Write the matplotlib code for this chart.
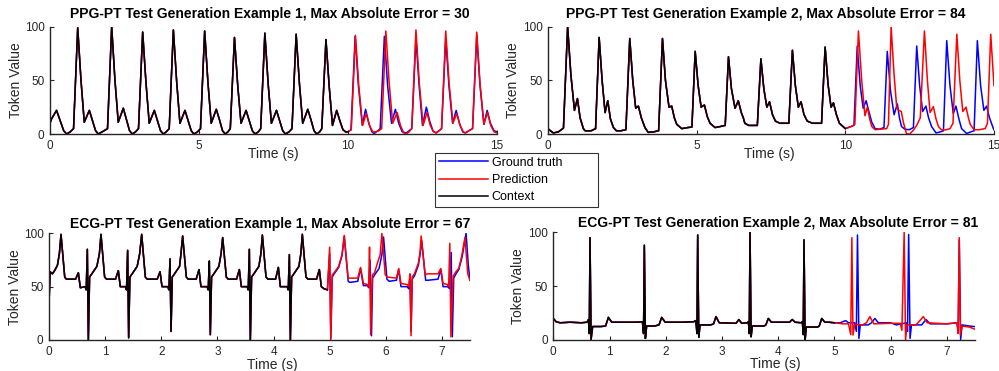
import numpy as np
import matplotlib
matplotlib.use("Agg")
from matplotlib import pyplot as plt

plt.rcParams['font.family'] = ['Liberation Sans', 'DejaVu Sans']

# ---- data: [time (s), token value] ----
ppg1_ctx = [
    [0.00, 10], [0.05, 14], [0.22, 22], [0.36, 11], [0.46, 3], [0.56, 0], [0.68, 2], [0.79, 5],
    [0.93, 99], [1.04, 50], [1.15, 11], [1.32, 22], [1.43, 12], [1.53, 3], [1.62, 0], [1.75, 2], [1.93, 5],
    [2.07, 100], [2.18, 50], [2.29, 11], [2.46, 24], [2.57, 13], [2.67, 3], [2.76, 0], [2.87, 2], [2.97, 5],
    [3.11, 95], [3.22, 48], [3.33, 10], [3.50, 22], [3.61, 12], [3.71, 3], [3.80, 0], [3.90, 2], [4.00, 5],
    [4.14, 97], [4.25, 49], [4.36, 10], [4.53, 22], [4.64, 12], [4.74, 3], [4.83, 0], [4.95, 2], [5.05, 5],
    [5.19, 96], [5.30, 48], [5.41, 10], [5.58, 23], [5.69, 13], [5.79, 3], [5.88, 0], [5.97, 2], [6.05, 5],
    [6.19, 90], [6.30, 45], [6.41, 10], [6.58, 22], [6.69, 12], [6.79, 3], [6.88, 0], [6.99, 2], [7.07, 5],
    [7.21, 94], [7.32, 47], [7.43, 10], [7.60, 22], [7.71, 12], [7.81, 3], [7.90, 0], [8.02, 2], [8.12, 5],
    [8.26, 93], [8.37, 47], [8.48, 10], [8.65, 23], [8.76, 13], [8.86, 3], [8.95, 0], [9.05, 2], [9.12, 5],
    [9.26, 88], [9.37, 44], [9.48, 8], [9.62, 22], [9.73, 12], [9.83, 4], [9.92, 2], [10.0, 2],
]
ppg1_gt = [
    [10.0, 2], [10.10, 4], [10.24, 91], [10.35, 45], [10.48, 8], [10.59, 23], [10.70, 10], [10.80, 2], [10.88, 0.5], [11.0, 3], [11.08, 5],
    [11.22, 91], [11.33, 45], [11.46, 10], [11.59, 23], [11.70, 10], [11.82, 2], [11.95, 1], [12.05, 3], [12.14, 5],
    [12.28, 89], [12.39, 44], [12.50, 8], [12.63, 25], [12.74, 12], [12.85, 3], [12.95, 1], [13.05, 3], [13.14, 5],
    [13.28, 89], [13.39, 44], [13.51, 10], [13.63, 22], [13.74, 10], [13.85, 2], [13.93, 1], [14.05, 3], [14.18, 5],
    [14.32, 92], [14.43, 45], [14.56, 9], [14.67, 22], [14.78, 10], [14.90, 3], [15.0, 2],
]
ppg1_pred = [
    [10.0, 2], [10.11, 4], [10.25, 92], [10.36, 45], [10.49, 8], [10.61, 19], [10.72, 8], [10.83, 2], [10.93, 2], [11.03, 3], [11.13, 5],
    [11.27, 96], [11.38, 48], [11.50, 10], [11.65, 20], [11.76, 8], [11.87, 1], [11.95, 0], [12.05, 2], [12.14, 5],
    [12.28, 97], [12.39, 48], [12.52, 8], [12.65, 20], [12.76, 8], [12.87, 2], [12.97, 1], [13.06, 3], [13.14, 5],
    [13.28, 96], [13.39, 48], [13.52, 10], [13.65, 19], [13.76, 8], [13.87, 2], [13.95, 1], [14.06, 3], [14.18, 5],
    [14.32, 95], [14.43, 47], [14.56, 9], [14.68, 20], [14.79, 8], [14.90, 2], [15.0, 1],
]

ppg2_ctx = [
    [0.00, 5], [0.08, 3], [0.18, 1], [0.35, 2], [0.52, 5.5],
    [0.66, 100], [0.77, 55], [0.89, 22], [0.99, 33], [1.08, 15], [1.19, 5], [1.25, 3], [1.45, 3], [1.60, 5],
    [1.72, 90], [1.82, 50], [1.92, 20], [2.01, 31], [2.10, 14], [2.20, 6], [2.30, 3], [2.45, 3], [2.62, 4],
    [2.75, 89], [2.85, 50], [2.95, 24], [3.04, 26], [3.14, 15], [3.26, 6], [3.37, 1.5], [3.55, 2], [3.72, 3],
    [3.85, 89], [3.95, 50], [4.07, 25], [4.16, 26], [4.25, 15], [4.33, 9], [4.50, 5], [4.70, 6], [4.84, 6.5],
    [4.95, 77], [5.05, 45], [5.15, 25], [5.26, 27], [5.36, 16], [5.45, 10], [5.62, 6], [5.80, 7], [5.96, 8],
    [6.07, 72], [6.17, 42], [6.29, 24], [6.40, 31], [6.50, 20], [6.57, 15], [6.62, 10], [6.75, 8], [7.04, 8],
    [7.16, 70], [7.26, 42], [7.36, 25], [7.45, 30], [7.55, 18], [7.65, 12], [7.80, 10], [8.10, 10],
    [8.22, 78], [8.32, 45], [8.42, 25], [8.51, 30], [8.61, 18], [8.72, 12], [8.90, 10], [9.20, 10],
    [9.32, 81], [9.42, 46], [9.52, 25], [9.60, 29], [9.70, 18], [9.80, 10], [9.92, 7], [10.0, 5],
]
ppg2_gt = [
    [10.0, 5], [10.20, 7], [10.29, 8], [10.40, 82], [10.50, 45], [10.60, 24], [10.70, 31], [10.80, 20], [10.89, 11], [11.0, 5], [11.15, 4.5], [11.30, 6],
    [11.41, 77], [11.52, 40], [11.64, 18], [11.75, 28], [11.82, 15], [11.89, 7], [12.0, 4.5], [12.15, 4], [12.29, 6],
    [12.40, 82], [12.50, 45], [12.60, 21], [12.71, 26], [12.80, 15], [12.90, 7], [13.05, 1], [13.20, 2], [13.30, 3],
    [13.41, 87], [13.52, 45], [13.63, 19], [13.72, 26], [13.82, 14], [13.91, 5], [14.08, 0.5], [14.22, 2], [14.33, 3],
    [14.44, 87], [14.55, 45], [14.66, 22], [14.75, 26], [14.85, 15], [14.98, 5], [15.0, 4],
]
ppg2_pred = [
    [10.0, 5], [10.20, 7], [10.32, 9], [10.44, 96], [10.55, 50], [10.66, 17], [10.74, 25], [10.82, 14], [10.89, 7], [11.0, 4], [11.20, 4.5], [11.39, 5], [11.45, 9],
    [11.54, 100], [11.64, 55], [11.73, 24], [11.80, 22], [11.88, 21], [11.96, 10], [12.06, 0], [12.17, 0], [12.30, 4], [12.40, 8], [12.52, 15],
    [12.66, 96], [12.76, 50], [12.85, 20], [12.96, 25.5], [13.05, 14], [13.13, 7], [13.24, 3.7], [13.40, 4], [13.52, 5], [13.62, 10],
    [13.75, 93], [13.85, 50], [13.95, 21], [14.06, 25], [14.14, 15], [14.20, 9], [14.33, 4], [14.50, 4], [14.70, 5], [14.78, 10],
    [14.89, 93], [15.0, 45],
]

ecg1_ctx = [
    [0.00, 34], [0.02, 64], [0.06, 62], [0.10, 65], [0.15, 70], [0.185, 81], [0.214, 99], [0.28, 59], [0.31, 57], [0.473, 57], [0.523, 63], [0.558, 49],
    [0.643, 50], [0.663, 47], [0.683, 85], [0.701, 0], [0.723, 59], [0.763, 62], [0.853, 69], [0.898, 81], [0.926, 99], [0.991, 59], [1.026, 57], [1.185, 57], [1.235, 65], [1.27, 50],
    [1.361, 50], [1.381, 47], [1.401, 84], [1.419, 2], [1.441, 59], [1.481, 62], [1.571, 69], [1.616, 81], [1.651, 99], [1.716, 59], [1.751, 57], [1.928, 57], [1.978, 64], [2.013, 50],
    [2.116, 50], [2.136, 47], [2.156, 76], [2.174, 8], [2.196, 59], [2.236, 62], [2.326, 69], [2.351, 81], [2.381, 97.5], [2.446, 59], [2.481, 57], [2.622, 57], [2.672, 66], [2.707, 50],
    [2.816, 50], [2.836, 47], [2.856, 74], [2.874, 5], [2.896, 59], [2.936, 62], [3.026, 69], [3.066, 81], [3.094, 96], [3.159, 59], [3.194, 57], [3.341, 57], [3.391, 66], [3.426, 50],
    [3.529, 50], [3.549, 47], [3.569, 85], [3.587, 0], [3.609, 59], [3.649, 62], [3.739, 69], [3.775, 81], [3.801, 98.4], [3.866, 59], [3.901, 57], [4.036, 57], [4.086, 68], [4.121, 50],
    [4.242, 50], [4.262, 47], [4.282, 80], [4.300, 0], [4.322, 59], [4.362, 62], [4.452, 69], [4.487, 81], [4.513, 99], [4.578, 59], [4.613, 57], [4.766, 57], [4.816, 66], [4.851, 50],
    [4.90, 48], [4.96, 47],
]
ecg1_gt = [
    [4.96, 47], [5.00, 81], [5.02, 2], [5.045, 59], [5.08, 62], [5.16, 68], [5.22, 79], [5.26, 97], [5.33, 55], [5.36, 54], [5.50, 55], [5.55, 67], [5.60, 51], [5.67, 51], [5.695, 49],
    [5.72, 75], [5.745, 4], [5.765, 58], [5.80, 61], [5.88, 67], [5.93, 80], [5.96, 96.5], [6.02, 57], [6.06, 55], [6.19, 56], [6.23, 66], [6.27, 50], [6.38, 50], [6.41, 48],
    [6.43, 60], [6.45, 8], [6.47, 57], [6.51, 60], [6.58, 70], [6.61, 80], [6.64, 93], [6.71, 56], [6.75, 56], [6.93, 57], [6.98, 66], [7.02, 50], [7.10, 50], [7.14, 48],
    [7.165, 82], [7.185, 3], [7.21, 58], [7.25, 62], [7.30, 66], [7.36, 78], [7.43, 100], [7.47, 70], [7.50, 56],
]
ecg1_pred = [
    [4.96, 47], [5.00, 87], [5.02, 0], [5.045, 61], [5.08, 63], [5.16, 69], [5.22, 80], [5.26, 98], [5.33, 58], [5.36, 58], [5.50, 58], [5.55, 68], [5.60, 53], [5.67, 52], [5.695, 50],
    [5.71, 87], [5.73, 5], [5.76, 61], [5.80, 63], [5.85, 72], [5.90, 80], [5.93, 100], [5.99, 61], [6.03, 59], [6.19, 58], [6.23, 67], [6.27, 53], [6.38, 52], [6.41, 50],
    [6.43, 62], [6.45, 4], [6.47, 59], [6.51, 62], [6.58, 72], [6.61, 82], [6.63, 97.5], [6.70, 61], [6.74, 62], [6.93, 62], [6.98, 67], [7.02, 53], [7.10, 52], [7.12, 50],
    [7.14, 90.6], [7.16, 3], [7.20, 60], [7.25, 64], [7.30, 67], [7.35, 78], [7.41, 96], [7.46, 62], [7.50, 56],
]

ecg2_ctx = [
    [0.00, 20], [0.05, 17], [0.12, 16], [0.30, 16.5], [0.50, 16], [0.60, 16.5], [0.625, 19], [0.64, 6], [0.653, 95], [0.672, 0.6],
    [0.70, 12.5], [0.85, 12.5], [0.93, 13], [0.98, 21], [1.04, 16.5], [1.30, 16.5], [1.50, 16.5], [1.585, 17], [1.605, 6], [1.619, 88], [1.638, 1.5],
    [1.66, 13], [1.80, 13], [1.88, 14], [1.928, 21], [1.99, 16.5], [2.30, 16.5], [2.50, 17], [2.535, 18], [2.555, 6], [2.568, 97.5], [2.587, 2.5],
    [2.61, 14], [2.80, 14], [2.85, 15], [2.894, 21.7], [2.95, 16], [3.25, 15.5], [3.30, 19], [3.35, 15.5], [3.45, 16], [3.47, 17], [3.485, 6], [3.499, 100], [3.518, 3],
    [3.54, 13], [3.75, 13], [3.78, 14], [3.824, 20], [3.88, 16.5], [4.20, 16.5], [4.25, 19], [4.30, 16.5], [4.41, 16], [4.43, 17], [4.445, 5], [4.459, 93], [4.478, 0],
    [4.50, 12], [4.70, 12], [4.73, 13], [4.774, 20], [4.83, 16.5], [4.90, 16.5], [5.0, 16],
]
ecg2_gt = [
    [5.0, 16], [5.10, 16], [5.20, 18], [5.25, 16], [5.36, 16], [5.39, 8], [5.41, 97.5], [5.435, 1.5], [5.46, 14], [5.60, 14], [5.66, 16], [5.72, 20], [5.78, 16],
    [6.0, 16], [6.05, 15], [6.10, 14], [6.28, 16], [6.30, 8], [6.32, 98], [6.345, 1.5], [6.37, 14], [6.55, 14], [6.63, 19], [6.70, 15],
    [7.0, 15], [7.18, 16], [7.20, 8], [7.22, 93], [7.245, 0.5], [7.27, 14], [7.40, 13], [7.50, 12.4],
]
ecg2_pred = [
    [5.0, 16], [5.15, 15], [5.25, 15], [5.29, 5], [5.31, 95], [5.33, 4.6], [5.36, 14.5], [5.50, 14], [5.57, 16], [5.63, 21.7], [5.70, 15],
    [6.0, 15.5], [6.17, 15.5], [6.20, 9], [6.24, 100], [6.265, 0], [6.29, 14], [6.45, 14], [6.52, 18], [6.58, 21.7], [6.65, 16],
    [7.0, 15], [7.18, 16], [7.20, 6], [7.22, 95], [7.24, 4.6], [7.27, 13], [7.40, 12], [7.50, 10],
]

titles = [
    "PPG-PT Test Generation Example 1, Max Absolute Error = 30",
    "PPG-PT Test Generation Example 2, Max Absolute Error = 84",
    "ECG-PT Test Generation Example 1, Max Absolute Error = 67",
    "ECG-PT Test Generation Example 2, Max Absolute Error = 81",
]
legend_labels = ["Ground truth", "Prediction", "Context"]

W, H = 999, 371
fig = plt.figure(figsize=(W / 100, H / 100), dpi=100)

# axes rectangles in pixels: left, right, top(y=100), bottom(y=0)
rects = [(50, 497, 26.7, 134), (548, 994, 26.7, 134), (49, 470, 233.3, 340), (553.3, 975, 232.3, 340)]
panels = [
    (ppg1_ctx, ppg1_gt, ppg1_pred, 15, [0, 5, 10, 15]),
    (ppg2_ctx, ppg2_gt, ppg2_pred, 15, [0, 5, 10, 15]),
    (ecg1_ctx, ecg1_gt, ecg1_pred, 7.5, range(8)),
    (ecg2_ctx, ecg2_gt, ecg2_pred, 7.5, range(8)),
]
title_x = [0.492, 0.488, 0.525, 0.534]
title_pad = [6, 6, 3.5, 3.5]
xlab_pos = [(0.499, -0.125), (0.4955, -0.118), (0.53, -0.168), (0.526, -0.16)]
ylab_x = [-0.06, -0.063, -0.064, -0.067]
axcol = '0.15'

handles = []
for i, ((ctx, gt, pred, xmax, xt), (l, r, t, b)) in enumerate(zip(panels, rects)):
    ax = fig.add_axes([l / W, 1 - b / H, (r - l) / W, (b - t) / H])
    ctx = np.array(ctx)
    full_gt = np.vstack([ctx, np.array(gt)])
    full_pred = np.vstack([ctx, np.array(pred)])
    hg, = ax.plot(full_gt[:, 0], full_gt[:, 1], color=(0, 0, 1), lw=1.1)
    hp, = ax.plot(full_pred[:, 0], full_pred[:, 1], color=(1, 0, 0), lw=1.1)
    hc, = ax.plot(ctx[:, 0], ctx[:, 1], color='black', lw=1.1)
    if i == 0:
        handles = [hg, hp, hc]
    ax.set_xlim(0, xmax)
    ax.set_ylim(0, 100)
    ax.set_xticks(list(xt))
    ax.set_yticks([0, 50, 100])
    for s in ['top', 'right']:
        ax.spines[s].set_visible(False)
    for s in ['left', 'bottom']:
        ax.spines[s].set_color(axcol)
        ax.spines[s].set_linewidth(1.0)
    ax.tick_params(direction='in', length=3, width=0.8, color=axcol, labelcolor=axcol,
                   labelsize=8.5, pad=4)
    ax.set_title(titles[i], fontsize=10, fontweight='bold', x=title_x[i], pad=title_pad[i])
    ax.set_xlabel("Time (s)", fontsize=10, color=axcol)
    ax.xaxis.set_label_coords(*xlab_pos[i])
    ax.set_ylabel("Token Value", fontsize=10, color=axcol)
    ax.yaxis.set_label_coords(ylab_x[i], 0.5)

leg = fig.legend(handles, legend_labels, loc='upper left',
                 bbox_to_anchor=(435 / W, 1 - 208 / H, 163 / W, 55 / H), mode='expand',
                 fontsize=9, frameon=True, fancybox=False, handlelength=3.9, handletextpad=0.35,
                 borderpad=0.3, labelspacing=0.42, borderaxespad=0)
leg.get_frame().set_edgecolor('black')
leg.get_frame().set_linewidth(0.8)

fig.savefig("out.png", dpi=100)
